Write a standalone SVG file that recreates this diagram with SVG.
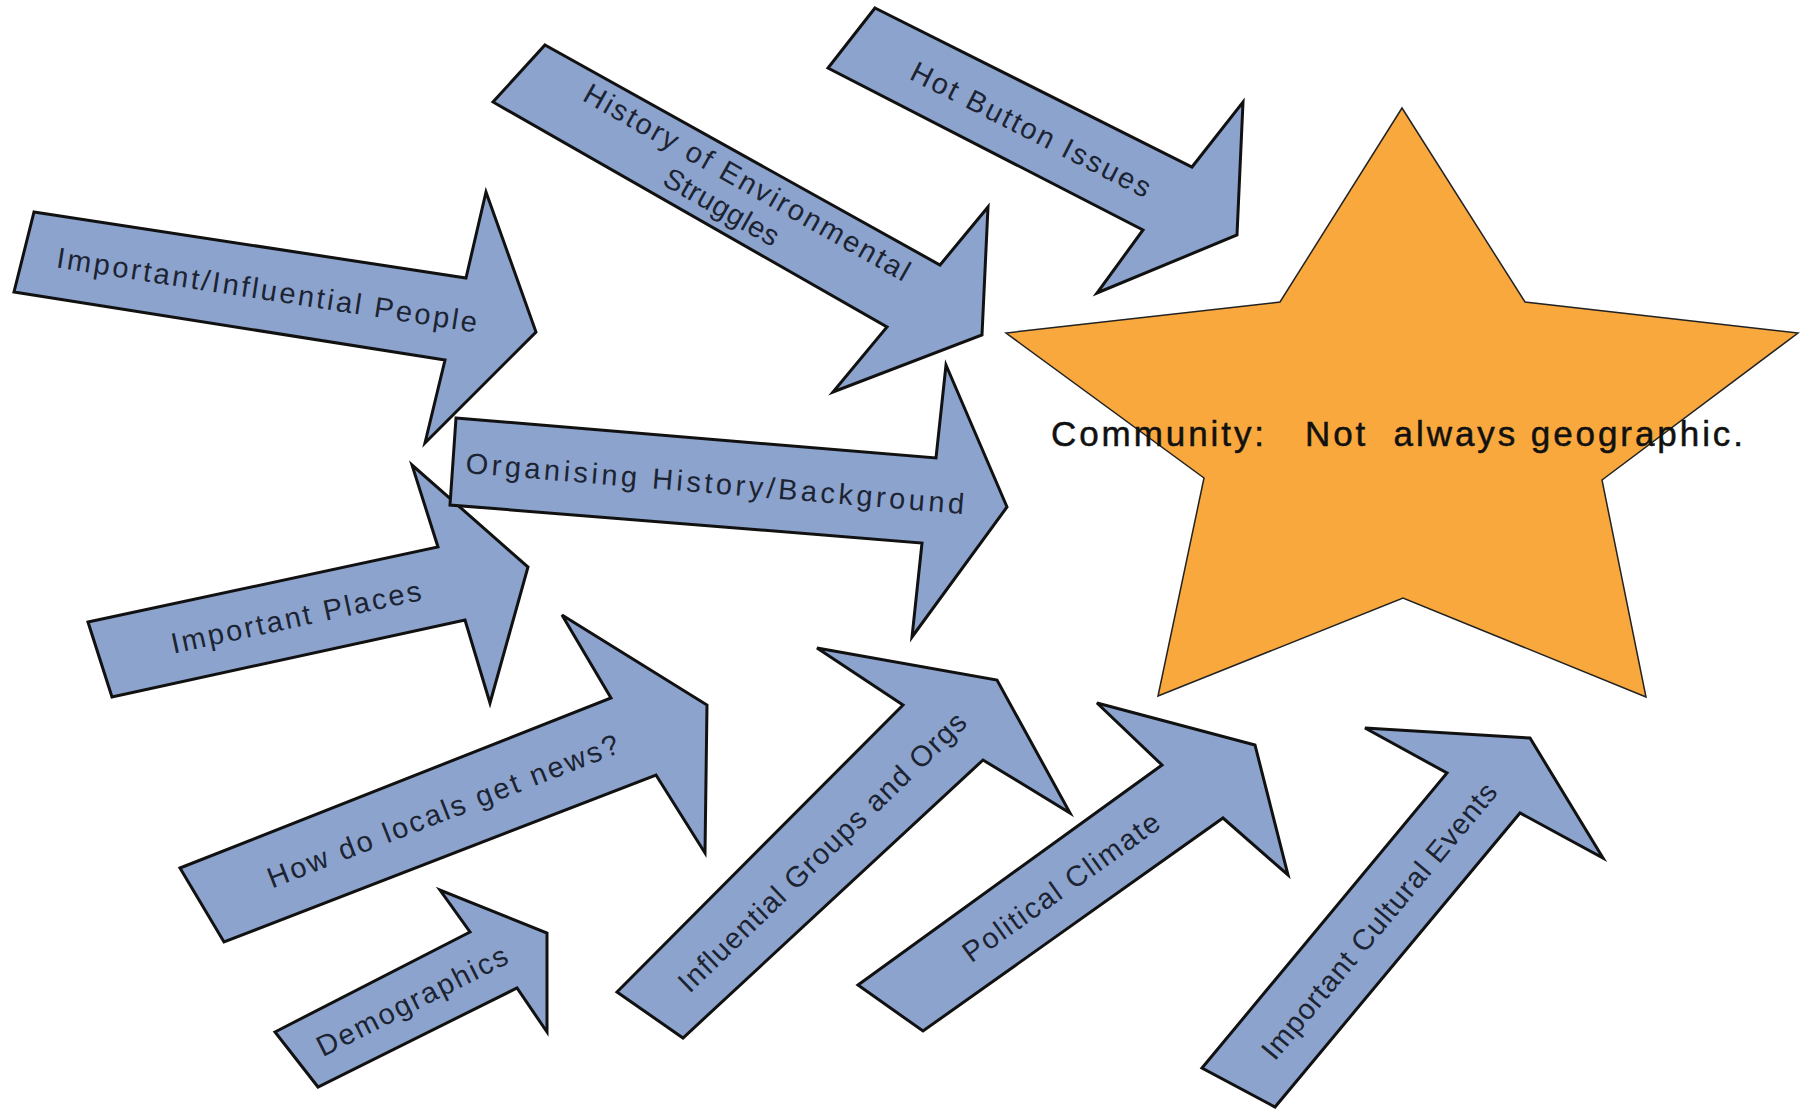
<svg xmlns="http://www.w3.org/2000/svg" width="1810" height="1113" viewBox="0 0 1810 1113">
<style>
.arrow{fill:#8CA3CD;stroke:#111;stroke-width:3;stroke-linejoin:miter}
.lbl{font-family:"Liberation Sans",Arial,sans-serif;font-size:29px;fill:#1c2433;text-anchor:middle;dominant-baseline:central}
.star{fill:#F9A83E;stroke:#222;stroke-width:1.5;stroke-linejoin:miter}
.startxt{font-family:"Liberation Sans",Arial,sans-serif;font-size:35px;fill:#111;stroke:#111;stroke-width:0.5}
</style>
<rect width="1810" height="1113" fill="#fff"/>
<g id="people">
<polygon class="arrow" points="34,212 466,278 486,192 536,332 425,443 445,360 14,292"/>
<text class="lbl" transform="translate(267,290) rotate(8.8)" textLength="425" lengthAdjust="spacing">Important/Influential People</text>
</g>
<g id="env-history">
<polygon class="arrow" points="545,45 940,265 988,207 982,335 833,392 887,327 493,102"/>
<g transform="translate(737,196) rotate(29.5)">
<text class="lbl" x="2" y="-17" textLength="370" lengthAdjust="spacing">History of Environmental</text>
<text class="lbl" x="-8" y="17" textLength="128" lengthAdjust="spacing">Struggles</text>
</g>
</g>
<g id="hot-button">
<polygon class="arrow" points="875,8 1192,167 1243,102 1237,235 1097,293 1143,230 828,68"/>
<text class="lbl" transform="translate(1031,129.5) rotate(26.9)" textLength="265" lengthAdjust="spacing">Hot Button Issues</text>
</g>
<g id="places">
<polygon class="arrow" points="88,622 438,547 412,465 528,567 490,703 465,620 112,697"/>
<text class="lbl" transform="translate(296,617) rotate(-12.2)" textLength="255" lengthAdjust="spacing">Important Places</text>
</g>
<g id="organising">
<polygon class="arrow" points="456,418 936,458 946,365 1007,507 912,637 922,543 450,505"/>
<text class="lbl" transform="translate(715,483.5) rotate(4.7)" textLength="500" lengthAdjust="spacing">Organising History/Background</text>
</g>
<g id="news">
<polygon class="arrow" points="180,868 611,698 562,615 707,705 705,853 656,775 224,942"/>
<text class="lbl" transform="translate(443,811) rotate(-21.3)" textLength="375" lengthAdjust="spacing">How do locals get news?</text>
</g>
<g id="demographics">
<polygon class="arrow" points="275,1032 470,932 440,890 547,933 547,1032 517,988 318,1087"/>
<text class="lbl" transform="translate(412,1001) rotate(-26.8)" textLength="210" lengthAdjust="spacing">Demographics</text>
</g>
<g id="groups">
<polygon class="arrow" points="617,992 903,705 817,648 997,680 1070,813 983,760 683,1038"/>
<text class="lbl" transform="translate(822,852) rotate(-44)" textLength="388" lengthAdjust="spacing">Influential Groups and Orgs</text>
</g>
<g id="political">
<polygon class="arrow" points="858,985 1162,765 1097,703 1255,745 1288,875 1223,818 923,1031"/>
<text class="lbl" transform="translate(1061,887) rotate(-35.6)" textLength="235" lengthAdjust="spacing">Political Climate</text>
</g>
<g id="cultural">
<polygon class="arrow" points="1202,1068 1447,773 1365,728 1530,738 1603,858 1520,813 1275,1107"/>
<text class="lbl" transform="translate(1379,921) rotate(-50.2)" textLength="350" lengthAdjust="spacing">Important Cultural Events</text>
</g>
<g id="community">
<polygon class="star" points="1402,108 1525,302 1798,333 1602,480 1646,697 1403,598 1158,696 1204,478 1006,333 1280,302"/>
<text class="startxt" x="1051" y="446" textLength="692" lengthAdjust="spacing" xml:space="preserve">Community:   Not  always geographic.</text>
</g>
</svg>
